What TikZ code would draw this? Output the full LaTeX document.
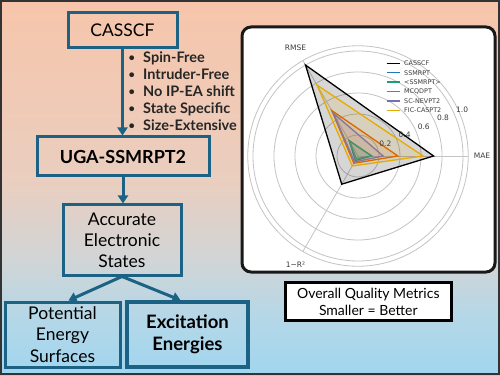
\documentclass[tikz,border=0pt]{standalone}
\usepackage{fontspec}
\setmainfont{Lato}
\newfontfamily\plotfont{DejaVu Sans}
\usetikzlibrary{arrows.meta,calc}
\definecolor{boxblue}{RGB}{28,98,133}
\definecolor{bgA}{RGB}{160,214,240}
\definecolor{bgB}{RGB}{180,215,232}
\definecolor{bgC}{RGB}{208,213,215}
\definecolor{bgD}{RGB}{234,206,191}
\definecolor{bgE}{RGB}{247,197,171}
\definecolor{ssblue}{RGB}{31,119,180}
\definecolor{ssteal}{RGB}{27,158,119}
\definecolor{mcorange}{RGB}{217,95,2}
\definecolor{nvpurple}{RGB}{117,112,179}
\definecolor{ficgold}{RGB}{230,171,2}
\definecolor{gridgray}{RGB}{196,196,196}
\definecolor{plottext}{RGB}{60,60,60}
\pgfdeclareverticalshading{bgshade}{100bp}{color(0bp)=(bgA); color(25bp)=(bgA); color(32.5bp)=(bgB); color(40bp)=(bgC); color(51bp)=(bgD); color(75bp)=(bgE); color(100bp)=(bgE)}
\begin{document}
\begin{tikzpicture}[x=1pt,y=1pt,
  fbox/.style={draw=boxblue, line width=3pt, inner sep=0pt, align=center},
  arr/.style={draw=boxblue, line width=3pt, -{Triangle[width=10pt,length=8pt]}},
  bultxt/.style={font=\fontsize{14.5}{17}\selectfont\bfseries, text=black!85, inner sep=0pt},
  grid/.style={draw=gridgray, line width=0.8pt},
  poly/.style={draw=#1, line width=1.3pt, fill=#1, fill opacity=0.12, line join=miter},
  leg/.style={font=\plotfont\fontsize{6.4}{7}\selectfont, text=plottext, inner sep=0pt},
  axl/.style={font=\plotfont\fontsize{7.5}{8}\selectfont, text=plottext, inner sep=0pt},
]
\useasboundingbox (0,0) rectangle (500,375);
\shade[shading=bgshade] (0,0) rectangle (500,375);
\draw[black!80, line width=2pt] (1,1) rectangle (499,374);

% flow chart
\node[fbox, minimum width=109pt, minimum height=35pt, font=\fontsize{17.5}{19}\selectfont] (cas) at (122.5,344.5) {CASSCF};
\node[fbox, minimum width=172pt, minimum height=39pt, font=\fontsize{18}{21}\selectfont\bfseries] (uga) at (123,218.5) {UGA-SSMRPT2};
\node[fbox, minimum width=118pt, minimum height=70pt, font=\fontsize{17.5}{21}\selectfont] (acc) at (122,135) {Accurate\\Electronic\\States};
\node[fbox, minimum width=115pt, minimum height=65pt, font=\fontsize{17.5}{21.5}\selectfont] (pes) at (62.5,40.5) {Potential\\Energy\\Surfaces};
\node[fbox, line width=3.6pt, minimum width=121pt, minimum height=65pt, font=\fontsize{18.5}{21.5}\selectfont\bfseries] (exc) at (187.5,40.5) {Excitation\\Energies};

\draw[arr] (cas.south) -- (cas.south |- uga.north);
\draw[arr] (uga.south) -- (uga.south |- acc.north);
\draw[arr] (acc.south) -- ([xshift=6pt]pes.north);
\draw[arr] (acc.south) -- ([xshift=-7pt]exc.north);

\foreach \t [count=\i] in {Spin-Free, Intruder-Free, No IP-EA shift, State Specific, Size-Extensive} {
  \node[bultxt, font=\fontsize{11}{17}\selectfont\bfseries, anchor=base west] (bb\i) at (128.5,{313-17*(\i-1)}) {•};
  \node[bultxt, anchor=base west] (bt\i) at (143,{312-17*(\i-1)}) {\t};
}

% radar panel
\draw[black!90, line width=3pt, fill=white, rounded corners=9pt] (242,103) rectangle (495,348);
\coordinate (C) at (358,219);
\foreach \r in {0.2,0.4,0.6,0.8,1.0} \draw[grid] (C) circle[radius=\r*105];
\draw[grid] (C) circle[radius=110.25];
\foreach \a in {0,120,240} \draw[grid] (C) -- ($(C)+(\a:110.25)$);

\draw[draw=black, line width=1.3pt, fill=black, fill opacity=0.16, line join=miter]
  ($(C)+(120:{1.0*105})$) -- ($(C)+(0:{0.72*105})$) -- ($(C)+(240:{0.31*105})$) -- cycle;
\foreach \col/\a/\b/\c in {ssblue/0.17/0.13/0.05, ssteal/0.165/0.13/0.03, mcorange/0.50/0.38/0.08, nvpurple/0.47/0.24/0.065, ficgold/0.78/0.62/0.11}
  \draw[poly=\col] ($(C)+(120:{\a*105})$) -- ($(C)+(0:{\b*105})$) -- ($(C)+(240:{\c*105})$) -- cycle;

\foreach \v [count=\i] in {0.2,0.4,0.6,0.8,1.0}
  \node[axl] (rl\i) at ($(C)+(24:{\v*105+9})$) {\v};
\node[axl] (lrmse) at ($(C)+(120:125)$) {RMSE};
\node[axl] (lmae) at ($(C)+(0:124)$) {MAE};
\node[axl] (lr2) at ($(C)+(240:125)$) {1−R²};

\foreach \col/\t [count=\i] in {black/CASSCF, ssblue/SSMRPT, ssteal/<SSMRPT>, mcorange/MCQDPT, nvpurple/SC-NEVPT2, ficgold/FIC-CASPT2} {
  \draw[\col, line width=1.3pt] (386.7,{311.7-9.4*(\i-1)}) coordinate (la\i) -- ++(13.3,0) coordinate (lb\i);
  \node[leg, anchor=west] (lt\i) at (404,{311.7-9.4*(\i-1)}) {\t};
}

% caption
\node[draw=black, line width=2.5pt, fill=white, minimum width=166pt, minimum height=38pt, align=center, inner sep=0pt, font=\fontsize{14}{16.7}\selectfont] (cap) at (368.3,73.3) {Overall Quality Metrics\\Smaller = Better};
\end{tikzpicture}
\end{document}
